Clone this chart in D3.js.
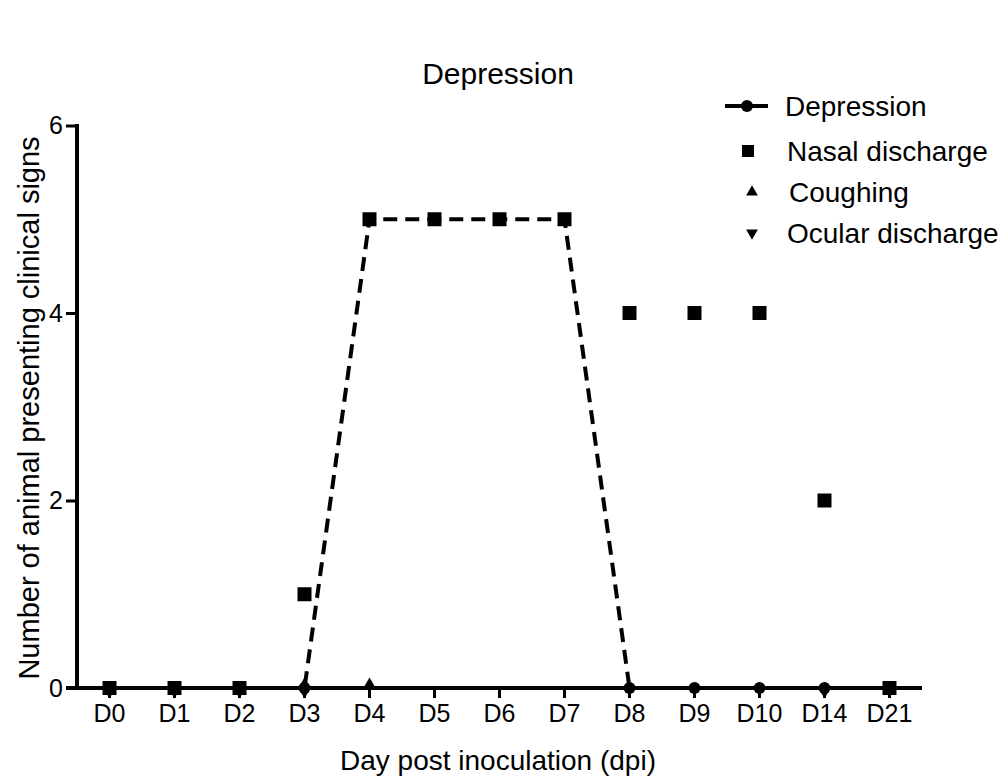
<!DOCTYPE html>
<html>
<head>
<meta charset="utf-8">
<script src="https://cdn.jsdelivr.net/npm/d3@7"></script>
<style>
  body { margin: 0; background: #fff; }
  text { font-family: "Liberation Sans", Arial, sans-serif; fill: #000; }
</style>
</head>
<body>
<div id="chart"></div>
<script>
// days and series values (null = no marker)
const days = ['D0', 'D1', 'D2', 'D3', 'D4', 'D5', 'D6', 'D7', 'D8', 'D9', 'D10', 'D14', 'D21'];
const depression = [0, 0, 0, 0, 5, 5, 5, 5, 0, 0, 0, 0, 0];
const nasalDischarge = [0, 0, 0, 1, 5, 5, 5, 5, 4, 4, 4, 2, 0];
const coughing = [null, null, null, 0, 0, null, null, null, null, null, null, null, null];
const ocularDischarge = [0, 0, 0, 0, null, null, null, null, null, null, null, 0, null];
const yTicks = [0, 2, 4, 6];

const width = 1004, height = 781;
const svg = d3.select('#chart').append('svg')
    .attr('width', width).attr('height', height);

const x = d3.scaleBand().domain(days).range([77, 922]);
const y = d3.scaleLinear().domain([0, 6]).range([688, 125.5]);
const cx = d => x(d) + x.bandwidth() / 2;

const sym = {
    tri: d3.symbol().type(d3.symbolTriangle).size(75),
    sq: d3.symbol().type(d3.symbolSquare).size(196)
};

// dashed depression line
const line = d3.line()
    .x((v, i) => cx(days[i]))
    .y(v => y(v));
svg.append('path')
    .datum(depression)
    .attr('d', line)
    .attr('fill', 'none')
    .attr('stroke', '#000')
    .attr('stroke-width', 4)
    .attr('stroke-dasharray', '14,8');

// axes
const xAxis = svg.append('g')
    .attr('transform', 'translate(0,688)')
    .call(d3.axisBottom(x).tickSize(10).tickPadding(6).tickSizeOuter(0));
xAxis.select('.domain').attr('stroke-width', 4).attr('d', 'M66,0H922');
xAxis.selectAll('.tick line').attr('stroke-width', 3);
xAxis.selectAll('.tick text')
    .style('font-family', '"Liberation Sans", Arial, sans-serif')
    .style('font-size', '25px').attr('fill', '#000');

const yAxis = svg.append('g')
    .attr('transform', 'translate(77,0)')
    .call(d3.axisLeft(y).tickValues(yTicks).tickFormat(d3.format('d'))
        .tickSize(11).tickPadding(3).tickSizeOuter(0));
yAxis.select('.domain').attr('stroke-width', 4).attr('d', 'M0,124V688');
yAxis.selectAll('.tick line').attr('stroke-width', 3);
yAxis.selectAll('.tick text')
    .style('font-family', '"Liberation Sans", Arial, sans-serif')
    .style('font-size', '25px').attr('fill', '#000');

// depression circles
svg.selectAll('.dep')
    .data(depression.map((v, i) => ({ d: days[i], v })).filter(p => p.v !== null))
    .enter().append('circle')
    .attr('cx', p => cx(p.d)).attr('cy', p => y(p.v))
    .attr('r', 6).attr('fill', '#000');

// ocular discharge (down triangles)
svg.selectAll('.ocu')
    .data(ocularDischarge.map((v, i) => ({ d: days[i], v })).filter(p => p.v !== null))
    .enter().append('path')
    .attr('d', sym.tri)
    .attr('transform', p => `translate(${cx(p.d)},${y(p.v) + 3}) rotate(180)`)
    .attr('fill', '#000');

// coughing (up triangles)
svg.selectAll('.cou')
    .data(coughing.map((v, i) => ({ d: days[i], v })).filter(p => p.v !== null))
    .enter().append('path')
    .attr('d', sym.tri)
    .attr('transform', p => `translate(${cx(p.d)},${y(p.v) - 3})`)
    .attr('fill', '#000');

// nasal discharge (squares)
svg.selectAll('.nas')
    .data(nasalDischarge.map((v, i) => ({ d: days[i], v })).filter(p => p.v !== null))
    .enter().append('path')
    .attr('d', sym.sq)
    .attr('transform', p => `translate(${cx(p.d)},${y(p.v)})`)
    .attr('fill', '#000');

// title and axis labels
svg.append('text')
    .attr('x', 498).attr('y', 84)
    .attr('text-anchor', 'middle').style('font-size', '30px')
    .text('Depression');

svg.append('text')
    .attr('x', 498).attr('y', 770)
    .attr('text-anchor', 'middle').style('font-size', '28px')
    .text('Day post inoculation (dpi)');

svg.append('text')
    .attr('transform', 'translate(39,408) rotate(-90)')
    .attr('text-anchor', 'middle').style('font-size', '29px')
    .text('Number of animal presenting clinical signs');

// legend
const legendItems = [
    { label: 'Depression', shape: 'line', y: 106, tx: 785 },
    { label: 'Nasal discharge', shape: 'square', y: 151, tx: 787 },
    { label: 'Coughing', shape: 'up', y: 192, tx: 789 },
    { label: 'Ocular discharge', shape: 'down', y: 233, tx: 787 }
];
legendItems.forEach(function(item) {
    const lg = svg.append('g');
    if (item.shape === 'line') {
        lg.append('line').attr('x1', 725).attr('x2', 768)
            .attr('y1', item.y).attr('y2', item.y)
            .attr('stroke', '#000').attr('stroke-width', 4);
        lg.append('circle').attr('cx', 747).attr('cy', item.y).attr('r', 6).attr('fill', '#000');
    } else if (item.shape === 'square') {
        lg.append('rect').attr('x', 742).attr('y', item.y - 6).attr('width', 12).attr('height', 12).attr('fill', '#000');
    } else {
        lg.append('path')
            .attr('d', d3.symbol().type(d3.symbolTriangle).size(60))
            .attr('transform', `translate(752,${item.y}) rotate(${item.shape === 'down' ? 180 : 0})`)
            .attr('fill', '#000');
    }
    lg.append('text')
        .attr('x', item.tx).attr('y', item.y + 10)
        .style('font-size', '28px')
        .text(item.label);
});
</script>
</body>
</html>
